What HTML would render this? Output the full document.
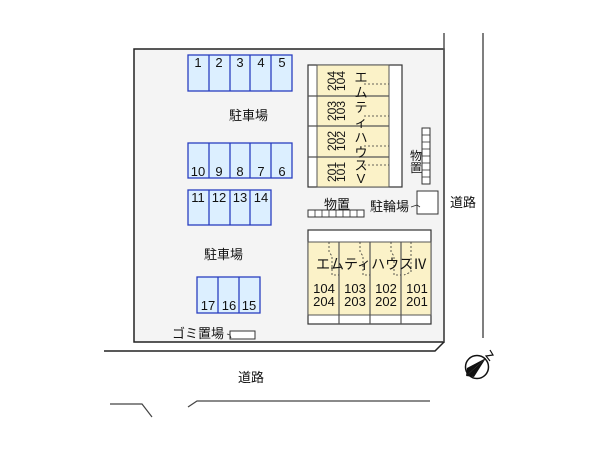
<!DOCTYPE html>
<html><head><meta charset="utf-8"><style>
html,body{margin:0;padding:0;background:#fff;}
svg{display:block;}
text{font-family:"Liberation Sans","Noto Sans CJK JP",sans-serif;fill:#111;}
.j{font-family:"Noto Sans CJK JP","Liberation Sans",sans-serif;}
</style></head><body>
<svg width="600" height="450" viewBox="0 0 600 450" xmlns="http://www.w3.org/2000/svg">
<rect x="134" y="49" width="310" height="293" fill="#f4f4f4" stroke="#222" stroke-width="1.5"/>
<line x1="444" y1="33" x2="444" y2="342" stroke="#555" stroke-width="1.5"/>
<polyline points="104,351 435,351 444,342" fill="none" stroke="#222" stroke-width="1.5"/>
<line x1="483" y1="33" x2="483" y2="338" stroke="#555" stroke-width="1.5"/>
<polyline points="110,404 142,404 152,417" fill="none" stroke="#444" stroke-width="1.2"/>
<polyline points="188,407 197,401 430,401" fill="none" stroke="#444" stroke-width="1.2"/>

<g fill="#dcefff" stroke="#2a3fc0" stroke-width="1.3">
<rect x="188" y="55" width="104" height="36"/>
<rect x="188" y="143" width="104" height="35"/>
<rect x="188" y="190" width="83" height="35"/>
<rect x="197" y="277" width="63" height="36"/>
</g>
<g stroke="#2a3fc0" stroke-width="1.3">
<line x1="209" y1="55" x2="209" y2="91"/><line x1="230" y1="55" x2="230" y2="91"/><line x1="250" y1="55" x2="250" y2="91"/><line x1="271" y1="55" x2="271" y2="91"/>
<line x1="209" y1="143" x2="209" y2="178"/><line x1="230" y1="143" x2="230" y2="178"/><line x1="250" y1="143" x2="250" y2="178"/><line x1="271" y1="143" x2="271" y2="178"/>
<line x1="209" y1="190" x2="209" y2="225"/><line x1="230" y1="190" x2="230" y2="225"/><line x1="250" y1="190" x2="250" y2="225"/>
<line x1="218" y1="277" x2="218" y2="313"/><line x1="239" y1="277" x2="239" y2="313"/>
</g>
<g font-size="13" text-anchor="middle">
<text x="198" y="67">1</text><text x="219" y="67">2</text><text x="240" y="67">3</text><text x="261" y="67">4</text><text x="282" y="67">5</text>
<text x="198" y="176">10</text><text x="219" y="176">9</text><text x="240" y="176">8</text><text x="261" y="176">7</text><text x="282" y="176">6</text>
<text x="198" y="202">11</text><text x="219" y="202">12</text><text x="240" y="202">13</text><text x="261" y="202">14</text>
<text x="208" y="310">17</text><text x="229" y="310">16</text><text x="249" y="310">15</text>
</g>

<rect x="308" y="65" width="94" height="122" fill="#fff" stroke="#333" stroke-width="1.2"/>
<rect x="317" y="65" width="72" height="122" fill="#fbf2c8" stroke="#555" stroke-width="1"/>
<g stroke="#555" stroke-width="1.2"><line x1="308" y1="96" x2="389" y2="96"/><line x1="308" y1="126" x2="389" y2="126"/><line x1="308" y1="157" x2="389" y2="157"/></g>
<g stroke="#333" stroke-dasharray="2,2" stroke-width="0.8">
<line x1="364" y1="84" x2="389" y2="84"/><line x1="364" y1="116" x2="389" y2="116"/><line x1="364" y1="146" x2="389" y2="146"/><line x1="364" y1="165" x2="389" y2="165"/>
</g>
<g font-size="12" text-anchor="middle">
<text transform="translate(336,81) rotate(-90)">204</text><text transform="translate(345,81) rotate(-90)">104</text>
<text transform="translate(336,111) rotate(-90)">203</text><text transform="translate(345,111) rotate(-90)">103</text>
<text transform="translate(336,141) rotate(-90)">202</text><text transform="translate(345,141) rotate(-90)">102</text>
<text transform="translate(336,172) rotate(-90)">201</text><text transform="translate(345,172) rotate(-90)">101</text>
</g>
<g class="j" font-size="13" text-anchor="middle">
<text x="361" y="82" class="j">エ</text><text x="361" y="97" class="j">ム</text><text x="361" y="112" class="j">テ</text><text x="361" y="127" class="j">ィ</text>
<text x="361" y="142" class="j">ハ</text><text x="361" y="157" class="j">ウ</text><text x="361" y="170" class="j">ス</text><text x="361" y="183">V</text>
</g>

<rect x="422" y="128" width="8" height="56" fill="#fff" stroke="#333" stroke-width="1"/>
<g stroke="#333" stroke-width="0.8">
<line x1="422" y1="135" x2="430" y2="135"/><line x1="422" y1="142" x2="430" y2="142"/><line x1="422" y1="149" x2="430" y2="149"/><line x1="422" y1="156" x2="430" y2="156"/><line x1="422" y1="163" x2="430" y2="163"/><line x1="422" y1="170" x2="430" y2="170"/><line x1="422" y1="177" x2="430" y2="177"/>
</g>
<text class="j" x="416" y="160" font-size="12" text-anchor="middle">物</text>
<text class="j" x="416" y="172" font-size="12" text-anchor="middle">置</text>

<rect x="417" y="191" width="21" height="23" fill="#fff" stroke="#333" stroke-width="1"/>
<text class="j" x="370" y="211" font-size="13">駐輪場</text>
<polyline points="411,207 417,205 420,207" fill="none" stroke="#333" stroke-width="0.8"/>
<text class="j" x="450" y="207" font-size="13">道路</text>

<rect x="308" y="210" width="56" height="7" fill="#fff" stroke="#333" stroke-width="1"/>
<g stroke="#333" stroke-width="0.8">
<line x1="315" y1="210" x2="315" y2="217"/><line x1="322" y1="210" x2="322" y2="217"/><line x1="329" y1="210" x2="329" y2="217"/><line x1="336" y1="210" x2="336" y2="217"/><line x1="343" y1="210" x2="343" y2="217"/><line x1="350" y1="210" x2="350" y2="217"/><line x1="357" y1="210" x2="357" y2="217"/>
</g>
<text class="j" x="324" y="209" font-size="13">物置</text>

<rect x="308" y="230" width="123" height="94" fill="#fff" stroke="#333" stroke-width="1.2"/>
<rect x="308" y="242" width="123" height="73" fill="#fbf2c8" stroke="#555" stroke-width="1"/>
<g stroke="#555" stroke-width="1.2"><line x1="339" y1="242" x2="339" y2="324"/><line x1="370" y1="242" x2="370" y2="324"/><line x1="401" y1="242" x2="401" y2="324"/></g>
<g stroke="#333" stroke-dasharray="2,2" stroke-width="0.8" fill="none">
<polyline points="329,242 329,252 332,256 332,275 339,275"/>
<polyline points="360,242 360,252 363,256 363,275 370,275"/>
<polyline points="391,242 391,252 394,256 394,275 401,275"/>
<polyline points="411,242 411,272 404,275"/>
</g>
<text class="j" x="316" y="269" font-size="14">エムティハウスⅣ</text>
<g font-size="13" text-anchor="middle">
<text x="324" y="293">104</text><text x="355" y="293">103</text><text x="386" y="293">102</text><text x="417" y="293">101</text>
<text x="324" y="306">204</text><text x="355" y="306">203</text><text x="386" y="306">202</text><text x="417" y="306">201</text>
</g>

<text class="j" x="229" y="120" font-size="13">駐車場</text>
<text class="j" x="204" y="259" font-size="13">駐車場</text>
<text class="j" x="172" y="338" font-size="13">ゴミ置場</text>
<rect x="230" y="331" width="25" height="8" fill="#fff" stroke="#333" stroke-width="1"/>
<polyline points="227,334 230,335 231,338" fill="none" stroke="#333" stroke-width="0.8"/>
<text class="j" x="238" y="382" font-size="13">道路</text>

<circle cx="477" cy="367" r="11.5" fill="#fff" stroke="#111" stroke-width="1.5"/>
<polygon points="466,376 486,358 474,377" fill="#111"/>
<polygon points="466,376 486,358 467,368" fill="#111"/>
<polyline points="490,361 486,356 493,355 490,350" fill="none" stroke="#111" stroke-width="1.2"/>
</svg>
</body></html>
